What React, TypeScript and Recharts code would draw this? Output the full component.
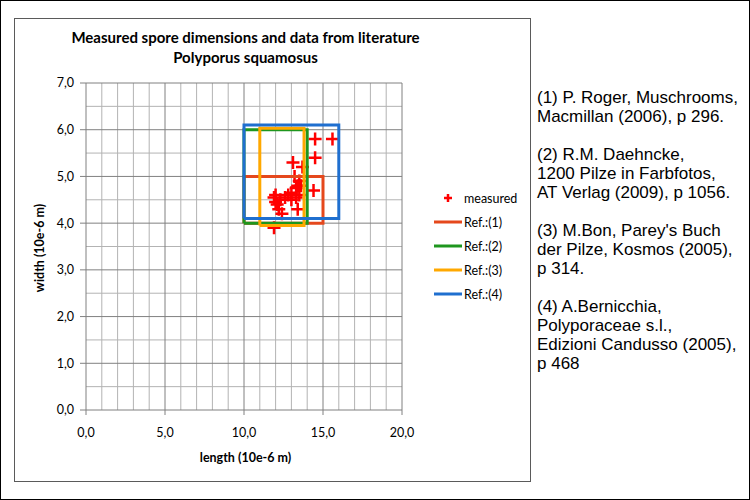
import { ScatterChart, Scatter, XAxis, YAxis, ReferenceLine } from 'recharts';

// measured spores (length, width) in 10e-6 m
const measuredLength = [14.5, 15.6, 14.5, 13.1, 13.7, 13.2, 13.5, 13.6, 13.4, 14.4, 13.3, 13.5, 13.0, 12.8, 12.6, 12.3, 11.9, 12.0, 12.1, 12.2, 12.4, 13.4, 11.9, 12.0, 13.0, 13.3];
const measuredWidth = [5.8, 5.8, 5.4, 5.3, 5.2, 5.0, 4.9, 4.8, 4.8, 4.7, 4.75, 4.6, 4.65, 4.6, 4.55, 4.5, 4.55, 4.45, 4.4, 4.3, 4.2, 4.3, 3.9, 4.6, 4.5, 4.55];

// literature ranges: [min, max]
const refNames = ['Ref.:(1)', 'Ref.:(2)', 'Ref.:(3)', 'Ref.:(4)'];
const refColors = ['#E5481C', '#1E961E', '#FFA800', '#1F6FCF'];
const refLength = [[10, 15], [10, 14], [11, 13.8], [10, 16]];
const refWidth = [[4.0, 5.0], [4.0, 6.0], [3.95, 6.03], [4.1, 6.1]];

const xTicks = [0, 5, 10, 15, 20];
const yTicks = [0, 1, 2, 3, 4, 5, 6, 7];
const xMinorGrid = [1, 2, 3, 4, 6, 7, 8, 9, 11, 12, 13, 14, 16, 17, 18, 19];
const yMinorGrid = [0.5, 1.5, 2.5, 3.5, 4.5, 5.5, 6.5];

const references = `(1) P. Roger, Muschrooms,
Macmillan (2006), p 296.

(2) R.M. Daehncke,
1200 Pilze in Farbfotos,
AT Verlag (2009), p 1056.

(3) M.Bon, Parey's Buch
der Pilze, Kosmos (2005),
p 314.

(4) A.Bernicchia,
Polyporaceae s.l.,
Edizioni Candusso (2005),
p 468`;

const measured = measuredLength.map((x, i) => ({ x, y: measuredWidth[i] }));

const box = (l: number[], w: number[]) => [
  { x: l[0], y: w[0] },
  { x: l[1], y: w[0] },
  { x: l[1], y: w[1] },
  { x: l[0], y: w[1] },
  { x: l[0], y: w[0] },
];

const fmt = (v: number) => v.toFixed(1).replace('.', ',');

const Cross = (props: any) => {
  const { cx, cy } = props;
  return (
    <path d={`M${cx - 6.5},${cy}H${cx + 6.5}M${cx},${cy - 6.5}V${cy + 6.5}`} stroke="#FF0000" strokeWidth={2.5} fill="none" />
  );
};

const font = 'Lato, "Open Sans", sans-serif';
const MAJOR = '#808080';
const MINOR = '#b3b3b3';

export default function App() {
  return (
    <div style={{ position: 'absolute', left: 0, top: 0, width: 750, height: 500, background: '#fff', overflow: 'hidden' }}>
      <div style={{ position: 'absolute', left: 0, top: 0, width: 750, height: 500, border: '1px solid #000', boxSizing: 'border-box' }} />
      <div style={{ position: 'absolute', left: 14, top: 18, width: 517, height: 464, border: '1px solid #5a5a5a', boxSizing: 'border-box' }} />

      <div style={{ position: 'absolute', left: 0, top: 27, width: 491, textAlign: 'center', fontFamily: font, fontWeight: 700, fontSize: 15, lineHeight: '20px', color: '#000' }}>
        Measured spore dimensions and data from literature
        <br />
        Polyporus squamosus
      </div>

      <div style={{ position: 'absolute', left: 0, top: 0 }}>
        <ScatterChart width={750} height={500} margin={{ top: 83, right: 348, bottom: 60, left: 46 }}>
          <XAxis
            type="number"
            dataKey="x"
            domain={[0, 20]}
            ticks={xTicks}
            tickFormatter={fmt}
            height={30}
            tickSize={5}
            tickMargin={13}
            stroke={MAJOR}
            tick={{ fill: '#000', fontSize: 12.5, fontFamily: font }}
          />
          <YAxis
            type="number"
            dataKey="y"
            domain={[0, 7]}
            ticks={yTicks}
            tickFormatter={fmt}
            width={40}
            tickSize={6}
            tickMargin={6}
            stroke={MAJOR}
            tick={{ fill: '#000', fontSize: 12.5, fontFamily: font }}
          />
          {xMinorGrid.map((v) => (
            <ReferenceLine key={`xm${v}`} x={v} stroke={MINOR} />
          ))}
          {yMinorGrid.map((v) => (
            <ReferenceLine key={`ym${v}`} y={v} stroke={MINOR} />
          ))}
          {xTicks.slice(1).map((v) => (
            <ReferenceLine key={`xM${v}`} x={v} stroke={MAJOR} />
          ))}
          {yTicks.slice(1).map((v) => (
            <ReferenceLine key={`yM${v}`} y={v} stroke={MAJOR} />
          ))}
          <Scatter name="measured" data={measured} shape={<Cross />} isAnimationActive={false} />
          {refNames.map((name, i) => (
            <Scatter
              key={name}
              name={name}
              data={box(refLength[i], refWidth[i])}
              line={{ stroke: refColors[i], strokeWidth: 3 }}
              lineJointType="linear"
              shape={() => <g />}
              fill={refColors[i]}
              isAnimationActive={false}
            />
          ))}
        </ScatterChart>
      </div>

      <div style={{ position: 'absolute', left: 0, top: 448, width: 491, textAlign: 'center', fontFamily: font, fontWeight: 700, fontSize: 12.5, lineHeight: '20px' }}>
        length (10e-6 m)
      </div>
      <div style={{ position: 'absolute', left: 40, top: 248, transform: 'translate(-50%, -50%) rotate(-90deg)', whiteSpace: 'nowrap', fontFamily: font, fontWeight: 700, fontSize: 12.5, lineHeight: '20px' }}>
        width (10e-6 m)
      </div>

      <div style={{ position: 'absolute', left: 432, top: 186, fontFamily: font, fontSize: 12.5 }}>
        <div style={{ display: 'flex', alignItems: 'center', height: 24 }}>
          <svg width={30} height={12} style={{ marginRight: 2 }}>
            <path d="M12,6H20M16,2V10" stroke="#FF0000" strokeWidth={2.5} />
          </svg>
          measured
        </div>
        {refNames.map((name, i) => (
          <div key={name} style={{ display: 'flex', alignItems: 'center', height: 24 }}>
            <svg width={30} height={12} style={{ marginRight: 2 }}>
              <line x1={2} y1={6} x2={30} y2={6} stroke={refColors[i]} strokeWidth={3} />
            </svg>
            {name}
          </div>
        ))}
      </div>

      <div style={{ position: 'absolute', left: 537, top: 88, fontFamily: '"Liberation Sans", Arial, sans-serif', fontSize: 17, lineHeight: '19px', whiteSpace: 'pre', color: '#000' }}>
        {references}
      </div>
    </div>
  );
}
